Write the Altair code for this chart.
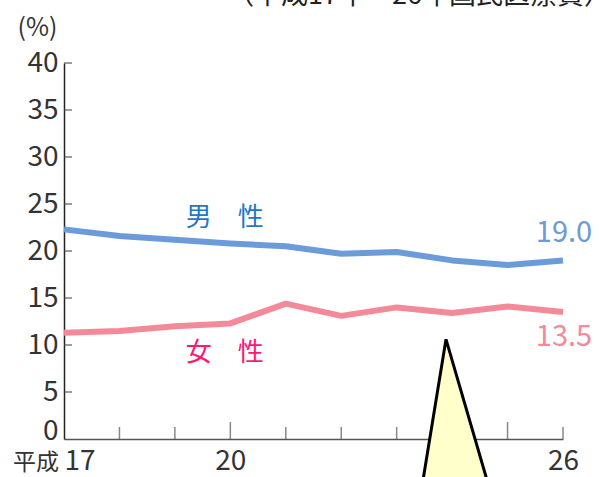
import altair as alt
import pandas as pd

# Survey years (Heisei era) and rates in percent
years = [17, 18, 19, 20, 21, 22, 23, 24, 25, 26]
male = [22.3, 21.6, 21.2, 20.8, 20.5, 19.7, 19.9, 19.0, 18.5, 19.0]
female = [11.3, 11.5, 12.0, 12.3, 14.4, 13.1, 14.0, 13.4, 14.1, 13.5]
series_names = ["男　性", "女　性"]
y_tick_values = [0, 5, 10, 15, 20, 25, 30, 35, 40]
x_major_ticks = [20, 25]
x_minor_ticks = [18, 19, 21, 22, 23, 24, 26]
x_labelled = [17, 20, 26]
source_note = ["（平成17年～26年国民医療費）"]

# Styling
LINE_M, LINE_F = "#6b9bd8", "#f4899a"
TEXT_M, TEXT_F = "#1f78c6", "#ff1774"
AXIS_COLOR = "#333333"
NUM_FONT = "Noto Sans CJK JP"
JP_FONT = "Noto Sans CJK JP"
W, H = 499, 376

long_df = pd.DataFrame(
    {
        "year": years * 2,
        "value": male + female,
        "series": [series_names[0]] * len(years) + [series_names[1]] * len(years),
    }
)

x_scale = alt.Scale(domain=[17, 26], nice=False, zero=False)
y_scale = alt.Scale(domain=[0, 40], nice=False, zero=True)

x_axis = alt.Axis(
    values=years,
    format="d",
    title=None,
    grid=False,
    ticks=False,
    tickSize=0,
    domainColor="#555555",
    domainWidth=1.5,
    labelFont=NUM_FONT,
    labelFontSize=28,
    labelColor=AXIS_COLOR,
    labelPadding=8,
    labelBaseline="top",
    labelAlign=alt.condition("datum.value === 17", alt.value("left"), alt.value("center")),
    labelExpr="indexof(%s, datum.value) >= 0 ? datum.label : ''" % str(x_labelled),
    labelOverlap=False,
    labelFlush=False,
)

y_axis = alt.Axis(
    values=y_tick_values,
    format="d",
    title="(%)",
    titleAngle=0,
    titleAlign="center",
    titleBaseline="middle",
    titleX=-27,
    titleY=-36,
    titleFont=NUM_FONT,
    titleFontSize=25,
    titleFontWeight="normal",
    titleColor=AXIS_COLOR,
    grid=False,
    ticks=False,
    tickSize=0,
    domainColor="#222222",
    domainWidth=1.5,
    labelFont=NUM_FONT,
    labelFontSize=28,
    labelColor=AXIS_COLOR,
    labelPadding=6,
    labelBaseline=alt.condition("datum.value === 0", alt.value("alphabetic"), alt.value("middle")),
    labelOverlap=False,
    labelFlush=False,
)

lines = (
    alt.Chart(long_df)
    .mark_line(strokeWidth=6, strokeJoin="round", strokeCap="butt")
    .encode(
        x=alt.X("year:Q", scale=x_scale, axis=x_axis),
        y=alt.Y("value:Q", scale=y_scale, axis=y_axis),
        color=alt.Color(
            "series:N",
            scale=alt.Scale(domain=series_names, range=[LINE_M, LINE_F]),
            legend=None,
        ),
    )
)

# Inward ticks on the value axis
y_tick_df = pd.DataFrame({"year": [years[0]] * (len(y_tick_values) - 1), "value": y_tick_values[1:]})
y_ticks = (
    alt.Chart(y_tick_df)
    .mark_tick(orient="horizontal", size=8, thickness=1.5, xOffset=4, color="#444444")
    .encode(x=alt.X("year:Q", scale=x_scale), y=alt.Y("value:Q", scale=y_scale))
)

# Upward ticks on the year axis (longer every five years)
x_minor = (
    alt.Chart(pd.DataFrame({"year": x_minor_ticks, "value": [0] * len(x_minor_ticks)}))
    .mark_tick(orient="vertical", size=12, thickness=1.5, yOffset=-6, color="#555555")
    .encode(x=alt.X("year:Q", scale=x_scale), y=alt.Y("value:Q", scale=y_scale))
)
x_major = (
    alt.Chart(pd.DataFrame({"year": x_major_ticks, "value": [0] * len(x_major_ticks)}))
    .mark_tick(orient="vertical", size=17, thickness=1.5, yOffset=-8.5, color="#555555")
    .encode(x=alt.X("year:Q", scale=x_scale), y=alt.Y("value:Q", scale=y_scale))
)

# Era prefix before the first year label
era = (
    alt.Chart(pd.DataFrame({"year": [years[0]], "value": [0], "t": ["平成"]}))
    .mark_text(font=JP_FONT, fontSize=23, align="right", baseline="alphabetic", dx=-5, dy=31, color=AXIS_COLOR)
    .encode(x=alt.X("year:Q", scale=x_scale), y=alt.Y("value:Q", scale=y_scale), text="t:N")
)

# Series names, coloured directly (no shared colour scale)
name_df = pd.DataFrame(
    {
        "year": [19.9, 19.9],
        "value": [23.5, 9.15],
        "series": series_names,
        "tint": [TEXT_M, TEXT_F],
    }
)
names = (
    alt.Chart(name_df)
    .mark_text(font=JP_FONT, fontSize=26, align="center", baseline="middle")
    .encode(
        x=alt.X("year:Q", scale=x_scale),
        y=alt.Y("value:Q", scale=y_scale),
        text="series:N",
        fill=alt.Fill("tint:N", scale=None, legend=None),
    )
)

# Latest values at the line ends
last = long_df[long_df["year"] == years[-1]]
end_m = (
    alt.Chart(last[last["series"] == series_names[0]])
    .mark_text(font=NUM_FONT, fontSize=29, align="center", baseline="middle", dx=1, dy=-27, color=LINE_M)
    .encode(
        x=alt.X("year:Q", scale=x_scale),
        y=alt.Y("value:Q", scale=y_scale),
        text=alt.Text("value:Q", format=".1f"),
    )
)
end_f = (
    alt.Chart(last[last["series"] == series_names[1]])
    .mark_text(font=NUM_FONT, fontSize=29, align="center", baseline="middle", dx=1, dy=25, color=LINE_F)
    .encode(
        x=alt.X("year:Q", scale=x_scale),
        y=alt.Y("value:Q", scale=y_scale),
        text=alt.Text("value:Q", format=".1f"),
    )
)

# Source note running off the top edge
note = (
    alt.Chart(pd.DataFrame({"t": source_note}))
    .mark_text(font=JP_FONT, fontSize=27, align="right", baseline="alphabetic", color="#222222", clip=False)
    .encode(x=alt.value(W + 48), y=alt.value(-59), text="t:N")
)

# Speech-bubble pointer rising from below the axis
pointer_df = pd.DataFrame({"value": [10.6, -6.0], "left": [23.89, 23.43], "right": [23.89, 24.71]})
pointer = (
    alt.Chart(pointer_df)
    .mark_area(orient="horizontal", fill="#ffffcc", stroke="black", strokeWidth=3, strokeJoin="miter", clip=False)
    .encode(
        y=alt.Y("value:Q", scale=y_scale),
        x=alt.X("left:Q", scale=x_scale),
        x2="right:Q",
    )
)

chart = (
    alt.layer(lines, y_ticks, x_minor, x_major, era, names, end_m, end_f, note, pointer)
    .properties(
        width=W,
        height=H,
        autosize=alt.AutoSizeParams(type="none"),
        padding={"left": 64, "top": 63, "right": 38, "bottom": 38},
        background="white",
    )
    .configure_view(stroke=None)
)

chart.save("out.html", embed_options={"renderer": "svg", "actions": False})
